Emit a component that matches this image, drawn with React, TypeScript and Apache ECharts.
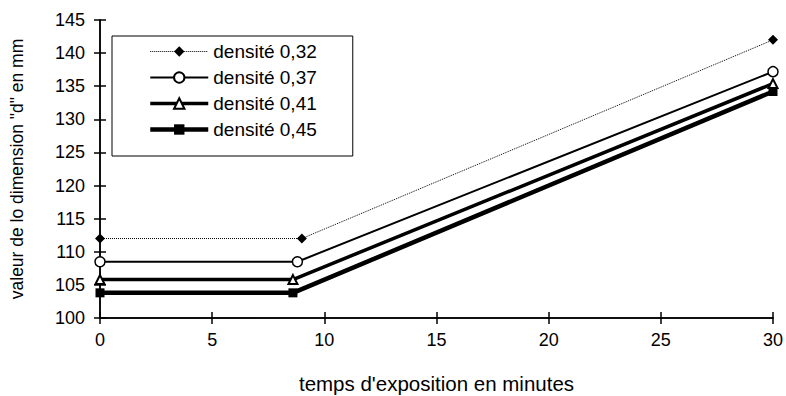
import React, { useEffect, useRef } from "react";
import * as echarts from "echarts";

const seriesNames = ["densité 0,32", "densité 0,37", "densité 0,41", "densité 0,45"];
const times032 = [0, 9, 30];
const times037 = [0, 8.8, 30];
const times041 = [0, 8.6, 30];
const times045 = [0, 8.6, 30];
const values032 = [112, 112, 142];
const values037 = [108.5, 108.5, 137.2];
const values041 = [105.8, 105.8, 135.4];
const values045 = [103.8, 103.8, 134.2];
const xTicks = [0, 5, 10, 15, 20, 25, 30];
const yTicks = [100, 105, 110, 115, 120, 125, 130, 135, 140, 145];

const pairs = (xs: number[], ys: number[]) => xs.map((x, i) => [x, ys[i]]);

const FONT = "Liberation Sans";
const W = 786;
const H = 396;
const GRID = { left: 100, right: 13, top: 20, bottom: 78 };

export default function App() {
  const ref = useRef<HTMLDivElement>(null);
  useEffect(() => {
    if (!ref.current) return;
    const chart = echarts.init(ref.current, null, { renderer: "svg" });
    const tickStyle = { color: "#000", width: 1.5 };
    const xRange = { type: "value", min: xTicks[0], max: xTicks[xTicks.length - 1], interval: 5 };
    const yRange = { type: "value", min: yTicks[0], max: yTicks[yTicks.length - 1], interval: 5 };
    chart.setOption({
      animation: false,
      backgroundColor: "#fff",
      grid: [
        { ...GRID, containLabel: false, outerBoundsMode: "none" },
        { ...GRID, containLabel: false, outerBoundsMode: "none" },
      ],
      legend: {
        left: 112,
        top: 36,
        orient: "vertical",
        data: [
          { name: seriesNames[0], lineStyle: { width: 1, type: "dotted" } },
          { name: seriesNames[1], lineStyle: { width: 2 } },
          { name: seriesNames[2], lineStyle: { width: 3.5 } },
          { name: seriesNames[3], lineStyle: { width: 4.5 } },
        ],
        itemWidth: 58,
        itemHeight: 13,
        itemGap: 7,
        padding: [6, 36, 17, 36],
        borderColor: "#000",
        borderWidth: 1,
        textStyle: { fontFamily: FONT, fontSize: 19, color: "#000", lineHeight: 16 },
      },
      xAxis: [
        {
          ...xRange,
          gridIndex: 0,
          axisLine: { show: true, lineStyle: tickStyle },
          splitLine: { show: false },
          axisTick: { show: true, length: 6, lineStyle: tickStyle },
          axisLabel: { fontFamily: FONT, fontSize: 18, color: "#000", margin: 13 },
          name: "temps d'exposition en minutes",
          nameLocation: "middle",
          nameGap: 55,
          nameTextStyle: { fontFamily: FONT, fontSize: 20.5, color: "#000" },
        },
        {
          ...xRange,
          gridIndex: 1,
          position: "bottom",
          axisLine: { show: true, lineStyle: tickStyle },
          splitLine: { show: false },
          axisTick: { show: true, inside: true, length: 6, lineStyle: tickStyle },
          axisLabel: { show: false },
        },
      ],
      yAxis: [
        {
          ...yRange,
          gridIndex: 0,
          axisLine: { show: true, lineStyle: tickStyle },
          splitLine: { show: false },
          axisTick: { show: true, length: 6, lineStyle: tickStyle },
          axisLabel: { fontFamily: FONT, fontSize: 18, color: "#000", margin: 15 },
          name: 'valeur de lo dimension "d" en mm',
          nameLocation: "middle",
          nameGap: 74,
          nameTextStyle: { fontFamily: FONT, fontSize: 17.5, color: "#000" },
        },
        {
          ...yRange,
          gridIndex: 1,
          position: "left",
          axisLine: { show: true, lineStyle: tickStyle },
          splitLine: { show: false },
          axisTick: { show: true, inside: true, length: 6, lineStyle: tickStyle },
          axisLabel: { show: false },
        },
      ],
      series: [
        {
          name: "ticks",
          type: "line",
          xAxisIndex: 1,
          yAxisIndex: 1,
          data: [],
          silent: true,
        },
        {
          name: seriesNames[0],
          type: "line",
          data: pairs(times032, values032),
          symbol: "diamond",
          symbolSize: 10,
          itemStyle: { color: "#000" },
          lineStyle: { color: "#000", width: 1, type: "dotted" },
        },
        {
          name: seriesNames[1],
          type: "line",
          data: pairs(times037, values037),
          symbol: "circle",
          symbolSize: 10,
          itemStyle: { color: "#fff", borderColor: "#000", borderWidth: 1.5 },
          lineStyle: { color: "#000", width: 2 },
        },
        {
          name: seriesNames[2],
          type: "line",
          data: pairs(times041, values041),
          symbol: "triangle",
          symbolSize: 9,
          itemStyle: { color: "#fff", borderColor: "#000", borderWidth: 2 },
          lineStyle: { color: "#000", width: 3.5 },
        },
        {
          name: seriesNames[3],
          type: "line",
          data: pairs(times045, values045),
          symbol: "rect",
          symbolSize: 9,
          itemStyle: { color: "#000" },
          lineStyle: { color: "#000", width: 4.5 },
        },
      ],
    });
    return () => chart.dispose();
  }, []);
  return <div ref={ref} style={{ width: W, height: H, position: "absolute", left: 0, top: 0 }} />;
}
